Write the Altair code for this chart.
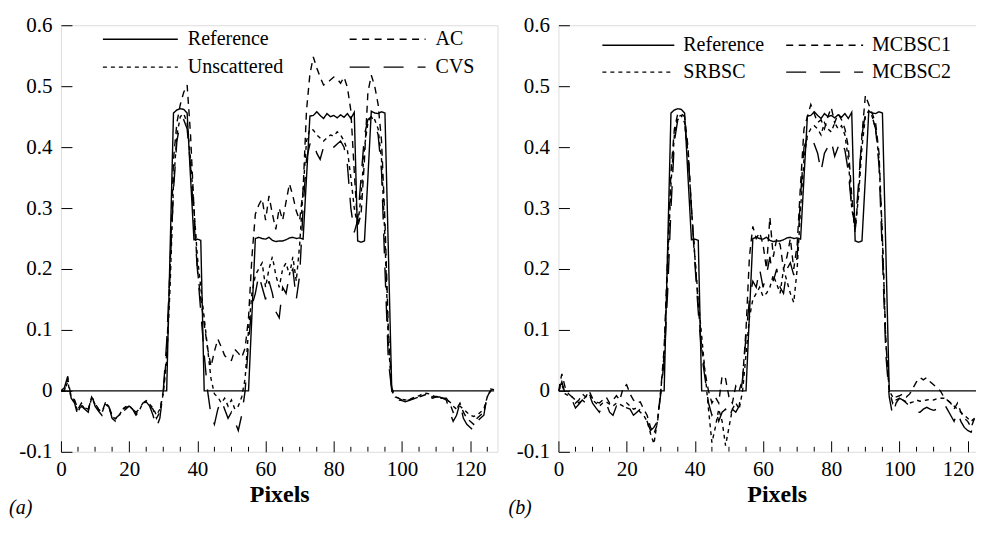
import altair as alt
import pandas as pd

# ---------------- data ----------------
PIXELS = list(range(128))

REFERENCE = [
    0, 0, 0, 0, 0, 0, 0, 0, 0, 0, 0, 0, 0, 0, 0, 0, 0, 0, 0, 0,
    0, 0, 0, 0, 0, 0, 0, 0, 0, 0, 0, 0.0, 0.23, 0.456, 0.461, 0.463, 0.462, 0.456, 0.35, 0.248,
    0.249, 0.247, 0.0, 0, 0, 0, 0, 0, 0, 0, 0, 0, 0, 0, 0, 0.0, 0.125, 0.25, 0.252, 0.250,
    0.249, 0.252, 0.247, 0.245, 0.246, 0.246, 0.248, 0.251, 0.252, 0.250, 0.251, 0.249, 0.35, 0.451, 0.452, 0.458, 0.452, 0.447, 0.455, 0.450,
    0.452, 0.448, 0.453, 0.449, 0.455, 0.447, 0.457, 0.246, 0.244, 0.246, 0.35, 0.459, 0.456, 0.455, 0.458, 0.456, 0.23, 0.0, 0, 0,
    0, 0, 0, 0, 0, 0, 0, 0, 0, 0, 0, 0, 0, 0, 0, 0, 0, 0, 0, 0,
    0, 0, 0, 0, 0, 0, 0, 0,
]

AC = [
    0.0, 0.0, 0.02, -0.01, -0.015, -0.03, -0.02, -0.028, -0.03, -0.01, -0.02, -0.03, -0.035, -0.02, -0.025, -0.04, -0.045, -0.04, -0.03, -0.028,
    -0.025, -0.03, -0.035, -0.03, -0.02, -0.018, -0.025, -0.03, -0.045, -0.035, 0.0, 0.06, 0.2, 0.38, 0.44, 0.47, 0.49, 0.502, 0.42, 0.3,
    0.2, 0.15, 0.11, 0.07, 0.04, 0.065, 0.085, 0.072, 0.058, 0.052, 0.05, 0.068, 0.062, 0.055, 0.07, 0.12, 0.22, 0.29, 0.305, 0.315,
    0.28, 0.32, 0.29, 0.265, 0.30, 0.28, 0.31, 0.34, 0.32, 0.295, 0.28, 0.33, 0.46, 0.52, 0.548, 0.53, 0.515, 0.502, 0.505, 0.51,
    0.515, 0.512, 0.505, 0.515, 0.498, 0.46, 0.36, 0.27, 0.29, 0.38, 0.49, 0.518, 0.5, 0.47, 0.41, 0.28, 0.1, 0.005, -0.01, -0.012,
    -0.015, -0.016, -0.015, -0.013, -0.012, -0.01, -0.008, -0.006, -0.008, -0.01, -0.009, -0.01, -0.012, -0.012, -0.02, -0.035, -0.03, -0.02, -0.035, -0.045,
    -0.05, -0.055, -0.045, -0.04, -0.035, -0.01, 0.002, 0.003,
]

UNSCATTERED = [
    0.0, 0.0, 0.015, -0.012, -0.018, -0.035, -0.022, -0.03, -0.032, -0.012, -0.022, -0.03, -0.036, -0.022, -0.026, -0.042, -0.046, -0.042, -0.03, -0.026,
    -0.024, -0.03, -0.038, -0.032, -0.02, -0.016, -0.022, -0.028, -0.04, -0.03, -0.005, 0.05, 0.17, 0.34, 0.42, 0.45, 0.455, 0.44, 0.38, 0.3,
    0.22, 0.17, 0.12, 0.07, 0.02, -0.005, -0.01, -0.02, -0.012, -0.025, -0.015, -0.03, -0.025, -0.01, 0.02, 0.1, 0.16, 0.19, 0.2, 0.21,
    0.17, 0.2, 0.22, 0.19, 0.17, 0.2, 0.21, 0.19, 0.22, 0.18, 0.24, 0.33, 0.41, 0.43, 0.428, 0.42, 0.415, 0.41, 0.415, 0.42,
    0.418, 0.425, 0.42, 0.41, 0.395, 0.35, 0.3, 0.27, 0.32, 0.4, 0.44, 0.45, 0.445, 0.43, 0.38, 0.25, 0.08, 0.0, -0.01, -0.012,
    -0.014, -0.015, -0.014, -0.012, -0.01, -0.008, -0.005, -0.004, -0.005, -0.008, -0.01, -0.012, -0.012, -0.015, -0.018, -0.025, -0.03, -0.025, -0.03, -0.035,
    -0.04, -0.042, -0.04, -0.035, -0.03, -0.01, 0.0, 0.002,
]

CVS = [
    0.0, 0.005, 0.024, -0.012, -0.02, -0.042, -0.025, -0.03, -0.035, -0.005, -0.025, -0.033, -0.04, -0.02, -0.025, -0.045, -0.05, -0.045, -0.035, -0.03,
    -0.025, -0.03, -0.04, -0.035, -0.022, -0.018, -0.025, -0.04, -0.06, -0.045, 0.0, 0.08, 0.2, 0.33, 0.41, 0.44, 0.445, 0.43, 0.37, 0.28,
    0.2, 0.13, 0.06, 0.0, -0.04, -0.055, -0.03, -0.015, -0.03, -0.045, -0.035, -0.05, -0.065, -0.04, 0.0, 0.08, 0.14, 0.16, 0.19, 0.17,
    0.15, 0.18, 0.16, 0.13, 0.12, 0.17, 0.16, 0.19, 0.2, 0.15, 0.19, 0.3, 0.38, 0.405, 0.41, 0.39, 0.38, 0.4, 0.4, 0.395,
    0.4, 0.405, 0.41, 0.4, 0.37, 0.3, 0.26, 0.28, 0.35, 0.42, 0.445, 0.45, 0.44, 0.42, 0.36, 0.2, 0.05, 0.0, -0.012, -0.015,
    -0.016, -0.018, -0.016, -0.014, -0.012, -0.01, -0.008, -0.008, -0.01, -0.012, -0.01, -0.01, -0.012, -0.015, -0.035, -0.05, -0.04, -0.02, -0.045, -0.055,
    -0.06, -0.065, -0.05, -0.045, -0.04, -0.005, 0.003, 0.002,
]

SRBSC = [
    0.0, 0.01, -0.005, -0.008, -0.01, -0.015, -0.02, -0.015, -0.01, -0.005, -0.015, -0.02, -0.025, -0.02, -0.018, -0.022, -0.025, -0.02, -0.022, -0.025,
    -0.02, -0.025, -0.03, -0.028, -0.035, -0.04, -0.05, -0.07, -0.087, -0.05, 0.0, 0.06, 0.2, 0.34, 0.42, 0.45, 0.452, 0.44, 0.39, 0.3,
    0.22, 0.15, 0.09, 0.03, -0.03, -0.085, -0.06, -0.03, -0.05, -0.09, -0.06, -0.03, -0.02, -0.03, 0.0, 0.06, 0.12, 0.15, 0.16, 0.17,
    0.155, 0.16, 0.17, 0.19, 0.175, 0.16, 0.2, 0.18, 0.16, 0.145, 0.2, 0.3, 0.38, 0.42, 0.43, 0.435, 0.43, 0.42, 0.44, 0.43,
    0.425, 0.44, 0.43, 0.435, 0.42, 0.38, 0.3, 0.265, 0.32, 0.4, 0.45, 0.46, 0.45, 0.43, 0.38, 0.25, 0.08, 0.0, -0.01, -0.015,
    -0.012, -0.015, -0.018, -0.02, -0.018, -0.015, -0.017, -0.016, -0.015, -0.014, -0.015, -0.013, -0.012, -0.012, -0.015, -0.02, -0.025, -0.03, -0.035, -0.04,
    -0.045, -0.05, -0.045, -0.04, -0.03, -0.025, -0.02, -0.02,
]

MCBSC1 = [
    0.0, 0.028, 0.005, -0.005, -0.01, -0.02, -0.015, -0.005, -0.01, 0.0, -0.012, -0.018, -0.02, -0.015, -0.01, -0.02, -0.015, -0.008, -0.015, 0.005,
    0.01, -0.005, -0.015, -0.02, -0.018, -0.03, -0.04, -0.06, -0.07, -0.055, 0.0, 0.07, 0.22, 0.36, 0.43, 0.455, 0.455, 0.45, 0.4, 0.3,
    0.22, 0.14, 0.07, 0.03, 0.0, -0.02, -0.01, -0.02, 0.025, 0.02, -0.01, -0.02, 0.008, 0.0, 0.02, 0.1, 0.22, 0.27, 0.25, 0.26,
    0.24, 0.2, 0.285, 0.22, 0.25, 0.24, 0.2, 0.22, 0.25, 0.2, 0.24, 0.34, 0.43, 0.45, 0.47, 0.455, 0.44, 0.445, 0.43, 0.45,
    0.465, 0.44, 0.455, 0.445, 0.43, 0.4, 0.32, 0.26, 0.33, 0.42, 0.485, 0.47, 0.455, 0.44, 0.39, 0.25, 0.08, 0.0, -0.02, -0.01,
    -0.008, -0.005, -0.01, -0.005, 0.005, 0.015, 0.022, 0.018, 0.022, 0.015, 0.01, 0.005, 0.0, -0.01, -0.015, -0.02, -0.03, -0.02, -0.035, -0.045,
    -0.05, -0.06, -0.045, -0.035, -0.02, -0.01, -0.005, -0.005,
]

MCBSC2 = [
    0.0, 0.015, -0.005, -0.01, -0.015, -0.028, -0.022, -0.015, -0.02, -0.005, -0.02, -0.028, -0.035, -0.025, -0.02, -0.035, -0.04, -0.025, -0.03, -0.035,
    -0.028, -0.03, -0.04, -0.035, -0.03, -0.045, -0.05, -0.065, -0.06, -0.05, -0.005, 0.05, 0.16, 0.3, 0.41, 0.445, 0.45, 0.44, 0.39, 0.3,
    0.21, 0.13, 0.06, 0.02, -0.02, -0.04, -0.03, -0.05, -0.035, -0.03, -0.045, -0.03, -0.035, -0.025, 0.02, 0.09, 0.15, 0.18, 0.17, 0.2,
    0.17, 0.19, 0.22, 0.18, 0.2, 0.17, 0.16, 0.2, 0.21, 0.19, 0.22, 0.32, 0.4, 0.415, 0.42, 0.405, 0.39, 0.36, 0.39, 0.4,
    0.41, 0.385, 0.4, 0.41, 0.395, 0.36, 0.3, 0.27, 0.34, 0.42, 0.455, 0.455, 0.45, 0.43, 0.37, 0.22, 0.06, -0.01, -0.04, -0.02,
    -0.012, -0.015, -0.02, -0.025, -0.033, -0.035, -0.035, -0.03, -0.027, -0.03, -0.032, -0.03, -0.025, -0.02, -0.03, -0.04, -0.05, -0.035, -0.05, -0.06,
    -0.065, -0.068, -0.05, -0.045, -0.04, -0.035, -0.03, -0.03,
]

SERIES_A = ["Reference", "AC", "Unscattered", "CVS"]
SERIES_B = ["Reference", "MCBSC1", "SRBSC", "MCBSC2"]
Y_TICKS = [-0.1, 0.0, 0.1, 0.2, 0.3, 0.4, 0.5, 0.6]
X_TICKS = [0, 20, 40, 60, 80, 100, 120]
X_MINOR = [5, 10, 15, 25, 30, 35, 45, 50, 55, 65, 70, 75, 85, 90, 95, 105, 110, 115, 125]

# ---------------- chart ----------------
W, H = 437, 427
FONT = "Liberation Serif"
# solid, short dash, dotted, long dash (same order as the series lists)
DASHES = [[1, 0], [7, 5.5], [4, 4], [20, 14]]


def long_table(names, columns):
    rows = []
    for name, vals in zip(names, columns):
        for x, v in zip(PIXELS, vals):
            rows.append({"x": x, "v": v, "series": name})
    return pd.DataFrame(rows)


def legend_layers(names, rows_y, col_x, seg_len, text_gap):
    """Hand-placed 2x2 key: entry i goes to row i//2, column i%2."""
    out = []
    for i, (name, dash) in enumerate(zip(names, DASHES)):
        y = rows_y[i // 2]
        x0 = col_x[i % 2]
        d = pd.DataFrame({"name": [name]})
        out.append(alt.Chart(d).mark_rule(color="black", strokeWidth=1.3, strokeDash=dash).encode(
            x=alt.value(x0), x2=alt.value(x0 + seg_len[i % 2]), y=alt.value(y)))
        out.append(alt.Chart(d).mark_text(font=FONT, fontSize=20, align="left",
                                          baseline="middle", color="black").encode(
            text="name:N", x=alt.value(x0 + seg_len[i % 2] + text_gap), y=alt.value(y)))
    return out


def panel(names, columns, tag, tag_dx, rows_y, col_x, seg_len, text_gap, last_label_right):
    xs = alt.Scale(domain=[0, 128], nice=False, zero=False)
    ys = alt.Scale(domain=[-0.1, 0.6], nice=False, zero=False)
    if last_label_right:
        # the right panel runs past the window edge: keep its last label inside
        label_align = {"condition": {"test": "datum.value == 120", "value": "right"}, "value": "center"}
        label_offset = {"condition": {"test": "datum.value == 120", "value": 6}, "value": 0}
    else:
        label_align = "center"
        label_offset = 0
    lines = alt.Chart(long_table(names, columns)).mark_line(
        color="black", strokeWidth=1.4, clip=True
    ).encode(
        x=alt.X("x:Q", scale=xs, axis=alt.Axis(
            values=X_TICKS, title="Pixels", offset=-11, tickSize=11, tickWidth=1,
            tickColor="black", domain=False, grid=False, labelFlush=False,
            labelAlign=label_align, labelOffset=label_offset,
            labelPadding=7, labelFont=FONT, labelFontSize=21, labelColor="black",
            titleFont=FONT, titleFontSize=24, titleFontWeight="bold",
            titleColor="black", titlePadding=3)),
        y=alt.Y("v:Q", scale=ys, axis=alt.Axis(
            values=Y_TICKS, title=None, offset=-11, tickSize=11, tickWidth=1,
            tickColor="black", domain=False, grid=False,
            labelExpr="datum.value == 0 ? '0' : (datum.value < 0 ? '-' + format(-datum.value, '.1f') : format(datum.value, '.1f'))",
            labelPadding=9, labelFont=FONT, labelFontSize=21, labelColor="black")),
        strokeDash=alt.StrokeDash("series:N", scale=alt.Scale(domain=names, range=DASHES),
                                  legend=None),
    )
    minor = alt.Chart(pd.DataFrame({"x": X_MINOR})).mark_rule(
        color="black", strokeWidth=1, clip=True
    ).encode(
        x=alt.X("x:Q", scale=xs),
        y=alt.value(H), y2=alt.value(H - 5),
    )
    label = alt.Chart(pd.DataFrame({"t": [tag]})).mark_text(
        font=FONT, fontSize=20, fontStyle="italic", align="left", baseline="alphabetic",
        color="black"
    ).encode(text="t:N", x=alt.value(tag_dx), y=alt.value(H + 62))
    layers = [lines, minor, label] + legend_layers(names, rows_y, col_x, seg_len, text_gap)
    return alt.layer(*layers).properties(width=W, height=H)


pa = panel(SERIES_A, [REFERENCE, AC, UNSCATTERED, CVS], "(a)", -52,
           rows_y=[14, 42], col_x=[42, 289], seg_len=[75, 76], text_gap=10,
           last_label_right=False)
pb = panel(SERIES_B, [REFERENCE, MCBSC1, SRBSC, MCBSC2], "(b)", -50,
           rows_y=[20, 47], col_x=[44, 228], seg_len=[72, 77], text_gap=9,
           last_label_right=True)

chart = alt.hconcat(pa, pb, spacing=61, bounds="flush").resolve_scale(
    strokeDash="independent", x="independent", y="independent"
).properties(
    padding={"left": 0, "top": 5, "right": -20, "bottom": 1}
).configure_view(stroke="black", strokeWidth=1.3).configure(background="white")

chart.save("out.html", embed_options={"renderer": "svg", "actions": False})
